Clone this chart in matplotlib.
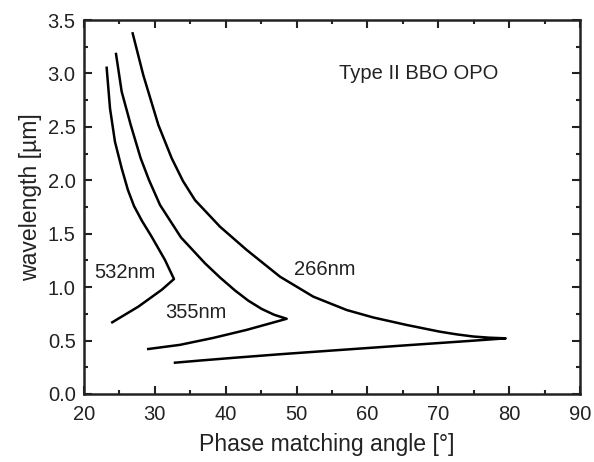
import matplotlib
matplotlib.use("Agg")
import matplotlib.pyplot as plt
from matplotlib.ticker import MultipleLocator, FormatStrFormatter

plt.rcParams['font.family'] = ['Liberation Sans', 'DejaVu Sans']

# 532 nm pump curve (phase-matching angle [deg], wavelength [um])
ang_532 = [23.20, 23.67, 24.37, 25.32, 26.20, 27.06, 28.19, 29.55, 31.43, 32.70,
           30.97, 27.66, 23.99]
wl_532 = [3.053, 2.674, 2.361, 2.112, 1.909, 1.759, 1.619, 1.472, 1.254, 1.076,
          0.975, 0.817, 0.671]

# 355 nm pump curve
ang_355 = [24.52, 25.32, 26.60, 28.00, 29.17, 30.73, 33.69, 37.08, 39.20, 41.31,
           43.20, 45.08, 46.85, 48.61,
           42.96, 38.25, 33.55, 29.07]
wl_355 = [3.182, 2.829, 2.517, 2.206, 2.003, 1.769, 1.465, 1.223, 1.090, 0.969,
          0.873, 0.796, 0.741, 0.704,
          0.600, 0.525, 0.460, 0.421]

# 266 nm pump curve
ang_266 = [26.87, 28.37, 30.50, 32.38, 33.97, 35.66, 39.19, 42.96, 47.66, 52.36,
           57.07, 60.83, 65.54, 70.24, 72.60, 74.94, 77.20, 79.51,
           74.94, 65.54, 56.13, 47.66, 41.00, 36.37, 32.84]
wl_266 = [3.375, 2.984, 2.517, 2.206, 1.993, 1.815, 1.566, 1.348, 1.098, 0.911,
          0.786, 0.716, 0.646, 0.583, 0.558, 0.538, 0.527, 0.521,
          0.499, 0.456, 0.412, 0.372, 0.338, 0.313, 0.293]

labels = ["532nm", "355nm", "266nm"]
label_pos = [(21.5, 1.135), (31.5, 0.76), (49.6, 1.167)]

fig = plt.figure(figsize=(5.94, 4.62), dpi=100)
ax = fig.add_axes([0.1414, 0.1472, 0.835, 0.8095])

for a, w in [(ang_532, wl_532), (ang_355, wl_355), (ang_266, wl_266)]:
    ax.plot(a, w, color='black', lw=1.8, solid_joinstyle='round')

for lab, (x, y) in zip(labels, label_pos):
    ax.text(x, y, lab, ha='left', va='center', fontsize=14.5, color='#222222')

ax.text(78.5, 3.0, "Type II BBO OPO", ha='right', va='center', fontsize=14.5,
        color='#222222')

ax.set_xlim(20, 90)
ax.set_ylim(0, 3.5)
ax.xaxis.set_major_locator(MultipleLocator(10))
ax.xaxis.set_minor_locator(MultipleLocator(5))
ax.yaxis.set_major_locator(MultipleLocator(0.5))
ax.yaxis.set_minor_locator(MultipleLocator(0.25))
ax.yaxis.set_major_formatter(FormatStrFormatter('%.1f'))
ax.tick_params(which='both', direction='in', top=True, right=True, width=1.5,
               labelsize=14.5, labelcolor='#222222', color='#222222')
ax.tick_params(which='major', length=5.7)
ax.tick_params(axis='x', which='major', pad=8)
ax.tick_params(axis='y', which='major', pad=6)
ax.tick_params(which='minor', length=3.2)
for s in ax.spines.values():
    s.set_linewidth(1.8)
    s.set_color('#222222')

ax.set_xlabel("Phase matching angle [°]", fontsize=16.6, color='#222222')
ax.set_ylabel("wavelength [µm]", fontsize=16.6, color='#222222')
ax.xaxis.set_label_coords(0.49, -0.105)
ax.yaxis.set_label_coords(-0.085, 0.527)

fig.savefig("out.png", dpi=100)
